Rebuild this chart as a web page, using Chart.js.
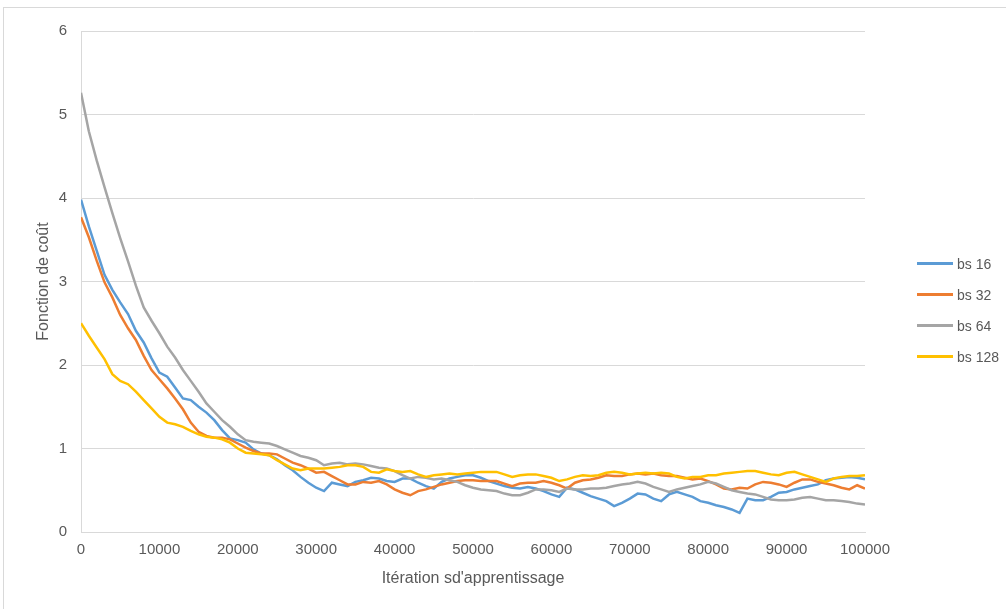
<!DOCTYPE html>
<html lang="fr">
<head>
<meta charset="utf-8">
<title>Fonction de coût</title>
<script src="https://cdn.jsdelivr.net/npm/chart.js@4.4.1/dist/chart.umd.min.js"></script>
<style>
    html, body { margin: 0; padding: 0; background: #fff; overflow: hidden; }
    #frame { position: absolute; left: 3px; top: 7px; width: 1010px; height: 620px; border: 1px solid #d9d9d9; }
    #wrap { position: absolute; left: 4px; top: 8px; width: 1002px; height: 601px; }
    #legend { position: absolute; left: 917px; top: 248px; font: 14px "Liberation Sans", Arial, sans-serif; color: #595959; }
    #legend .item { height: 31px; display: flex; align-items: center; }
    #legend .swatch { width: 36px; height: 3px; margin-right: 4px; }
</style>
</head>
<body>
<div id="frame"></div>
<div id="wrap"><canvas id="loss-chart" width="1002" height="601"></canvas></div>
<div id="legend"></div>

<script>
    "use strict";

    // Iterations (x)
    var iterations = [
        0, 1000, 2000, 3000, 4000, 5000, 6000, 7000, 8000, 9000,
        10000, 11000, 12000, 13000, 14000, 15000, 16000, 17000, 18000, 19000,
        20000, 21000, 22000, 23000, 24000, 25000, 26000, 27000, 28000, 29000,
        30000, 31000, 32000, 33000, 34000, 35000, 36000, 37000, 38000, 39000,
        40000, 41000, 42000, 43000, 44000, 45000, 46000, 47000, 48000, 49000,
        50000, 51000, 52000, 53000, 54000, 55000, 56000, 57000, 58000, 59000,
        60000, 61000, 62000, 63000, 64000, 65000, 66000, 67000, 68000, 69000,
        70000, 71000, 72000, 73000, 74000, 75000, 76000, 77000, 78000, 79000,
        80000, 81000, 82000, 83000, 84000, 85000, 86000, 87000, 88000, 89000,
        90000, 91000, 92000, 93000, 94000, 95000, 96000, 97000, 98000, 99000,
        100000
    ];

    // Loss per batch size
    var bs16 = [
        3.98, 3.66, 3.37, 3.08, 2.90, 2.75, 2.61, 2.41, 2.27, 2.08,
        1.91, 1.86, 1.73, 1.60, 1.58, 1.50, 1.43, 1.34, 1.22, 1.12,
        1.10, 1.07, 0.99, 0.94, 0.92, 0.87, 0.80, 0.74, 0.66, 0.59,
        0.53, 0.49, 0.59, 0.57, 0.55, 0.60, 0.62, 0.65, 0.64, 0.61,
        0.60, 0.64, 0.64, 0.59, 0.55, 0.52, 0.60, 0.64, 0.66, 0.68,
        0.68, 0.65, 0.61, 0.58, 0.55, 0.53, 0.52, 0.54, 0.52, 0.49,
        0.45, 0.42, 0.53, 0.51, 0.47, 0.43, 0.40, 0.37, 0.31, 0.35,
        0.40, 0.46, 0.45, 0.40, 0.37, 0.45, 0.48, 0.45, 0.42, 0.37,
        0.35, 0.32, 0.30, 0.27, 0.23, 0.40, 0.38, 0.38, 0.42, 0.47,
        0.48, 0.51, 0.53, 0.55, 0.57, 0.62, 0.64, 0.65, 0.66, 0.65,
        0.63
    ];
    var bs32 = [
        3.77, 3.53, 3.25, 2.99, 2.81, 2.60, 2.44, 2.30, 2.11, 1.94,
        1.83, 1.72, 1.60, 1.47, 1.31, 1.20, 1.15, 1.13, 1.13, 1.11,
        1.06, 1.01, 0.97, 0.94, 0.94, 0.93, 0.88, 0.83, 0.80, 0.76,
        0.71, 0.72, 0.67, 0.62, 0.57, 0.57, 0.60, 0.59, 0.61, 0.57,
        0.51, 0.47, 0.44, 0.49, 0.51, 0.54, 0.57, 0.59, 0.61, 0.62,
        0.62, 0.61, 0.61, 0.61, 0.58, 0.55, 0.58, 0.59, 0.59, 0.61,
        0.59, 0.56, 0.52, 0.59, 0.62, 0.63, 0.65, 0.68, 0.67, 0.67,
        0.69, 0.70, 0.69, 0.70, 0.68, 0.67, 0.67, 0.65, 0.63, 0.64,
        0.61, 0.57, 0.52, 0.51, 0.53, 0.52, 0.57, 0.60, 0.59, 0.57,
        0.54, 0.59, 0.63, 0.63, 0.60, 0.58, 0.56, 0.53, 0.51, 0.56,
        0.52
    ];
    var bs64 = [
        5.26, 4.80, 4.45, 4.13, 3.82, 3.52, 3.24, 2.95, 2.69, 2.53,
        2.38, 2.22, 2.09, 1.94, 1.81, 1.68, 1.54, 1.44, 1.34, 1.26,
        1.17, 1.10, 1.08, 1.07, 1.06, 1.03, 0.99, 0.95, 0.91, 0.89,
        0.86, 0.80, 0.82, 0.83, 0.81, 0.82, 0.81, 0.79, 0.77, 0.76,
        0.73, 0.68, 0.64, 0.66, 0.65, 0.63, 0.64, 0.62, 0.60, 0.56,
        0.53, 0.51, 0.50, 0.49, 0.46, 0.44, 0.44, 0.47, 0.51, 0.51,
        0.50, 0.48, 0.52, 0.51, 0.51, 0.52, 0.52, 0.53, 0.55, 0.57,
        0.58, 0.60, 0.58, 0.54, 0.51, 0.48, 0.51, 0.53, 0.55, 0.57,
        0.60, 0.58, 0.54, 0.50, 0.48, 0.46, 0.45, 0.42, 0.39, 0.38,
        0.38, 0.39, 0.41, 0.42, 0.40, 0.38, 0.38, 0.37, 0.36, 0.34,
        0.33
    ];
    var bs128 = [
        2.50, 2.35, 2.21, 2.07, 1.89, 1.81, 1.77, 1.68, 1.58, 1.48,
        1.38, 1.31, 1.29, 1.26, 1.21, 1.17, 1.14, 1.13, 1.11, 1.07,
        1.00, 0.95, 0.94, 0.93, 0.92, 0.86, 0.81, 0.76, 0.74, 0.76,
        0.76, 0.76, 0.77, 0.78, 0.80, 0.80, 0.78, 0.72, 0.71, 0.75,
        0.73, 0.72, 0.73, 0.69, 0.66, 0.68, 0.69, 0.70, 0.69, 0.70,
        0.71, 0.72, 0.72, 0.72, 0.69, 0.66, 0.68, 0.69, 0.69, 0.67,
        0.65, 0.61, 0.63, 0.66, 0.68, 0.67, 0.68, 0.71, 0.72, 0.71,
        0.69, 0.70, 0.71, 0.70, 0.71, 0.70, 0.66, 0.64, 0.66, 0.66,
        0.68, 0.68, 0.70, 0.71, 0.72, 0.73, 0.73, 0.71, 0.69, 0.68,
        0.71, 0.72, 0.69, 0.66, 0.63, 0.60, 0.64, 0.66, 0.67, 0.67,
        0.68
    ];

    var seriesNames = ["bs 16", "bs 32", "bs 64", "bs 128"];
    var seriesData = [bs16, bs32, bs64, bs128];
    var seriesColors = ["#5b9bd5", "#ed7d31", "#a5a5a5", "#ffc000"];

    var textColor = "#595959";
    var gridColor = "#d9d9d9";
    var fontFamily = "'Liberation Sans', Arial, sans-serif";

    // later series on top, like the spreadsheet does it
    var datasets = seriesNames.map(function (name, i) {
        return {
            label: name,
            data: seriesData[i],
            borderColor: seriesColors[i],
            backgroundColor: seriesColors[i],
            borderWidth: 2.5,
            pointRadius: 0,
            tension: 0,
            fill: false,
            order: seriesNames.length - i
        };
    });

    var ctx = document.getElementById("loss-chart").getContext("2d");
    var lossChart = new Chart(ctx, {
        type: "line",
        data: {
            labels: iterations,
            datasets: datasets
        },
        options: {
            responsive: false,
            animation: false,
            events: [],
            layout: {
                padding: { left: 0, right: 141, top: 20, bottom: 0 }
            },
            plugins: {
                legend: { display: false },
                tooltip: { enabled: false }
            },
            scales: {
                x: {
                    type: "linear",
                    min: 0,
                    max: 100000,
                    afterFit: function (scale) { scale.height = 77; },
                    grid: { display: false, drawTicks: false },
                    border: { display: true, color: gridColor },
                    ticks: {
                        stepSize: 10000,
                        autoSkip: false,
                        maxRotation: 0,
                        padding: 9,
                        color: textColor,
                        font: { family: fontFamily, size: 15 },
                        callback: function (value) { return String(value); }
                    },
                    title: {
                        display: true,
                        text: "Itération sd'apprentissage",
                        color: textColor,
                        font: { family: fontFamily, size: 16 },
                        padding: { top: 0, bottom: 21 }
                    }
                },
                y: {
                    min: 0,
                    max: 6,
                    afterFit: function (scale) { scale.width = 77; },
                    grid: { color: gridColor, drawTicks: false },
                    border: { display: true, color: gridColor },
                    ticks: {
                        stepSize: 1,
                        padding: 14,
                        color: textColor,
                        font: { family: fontFamily, size: 15 }
                    },
                    title: {
                        display: true,
                        text: "Fonction de coût",
                        color: textColor,
                        font: { family: fontFamily, size: 16 },
                        padding: { top: 30, bottom: 0 }
                    }
                }
            }
        }
    });

    // Legend
    var legend = document.getElementById("legend");
    seriesNames.forEach(function (name, i) {
        var item = document.createElement("div");
        item.className = "item";
        var swatch = document.createElement("span");
        swatch.className = "swatch";
        swatch.style.background = seriesColors[i];
        var label = document.createElement("span");
        label.textContent = name;
        item.appendChild(swatch);
        item.appendChild(label);
        legend.appendChild(item);
    });
</script>
</body>
</html>
